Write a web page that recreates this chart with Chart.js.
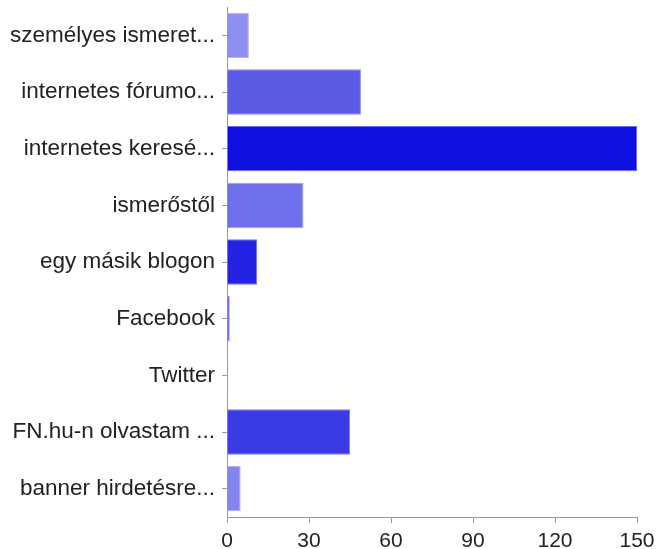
<!DOCTYPE html>
<html>
<head>
<meta charset="utf-8">
<script src="https://cdn.jsdelivr.net/npm/chart.js@4"></script>
<style>
  html, body { margin: 0; padding: 0; background: #fff; }
  #wrap { width: 658px; height: 549px; position: relative; }
</style>
</head>
<body>
<div id="wrap"><canvas id="myChart"></canvas></div>
<script>
const categories = [
  'személyes ismeret...',
  'internetes fórumo...',
  'internetes keresé...',
  'ismerőstől',
  'egy másik blogon',
  'Facebook',
  'Twitter',
  'FN.hu-n olvastam ...',
  'banner hirdetésre...'
];
const counts = [8, 49, 150, 28, 11, 1, 0, 45, 5];
const barColors = ['#8f8ff0', '#5b5be6', '#1010e0', '#7070ea', '#2222e0', '#4a4af0', '#4a4af0', '#3b3be6', '#8585f0'];
const edgeColors = ['#b4b4f6', '#8a8af0', '#6a6aee', '#a0a0f4', '#7070ee', '#9090f6', '#9090f6', '#8080f0', '#b0b0f6'];
const xTicks = [0, 30, 60, 90, 120, 150];

const myChartElement = document.getElementById('myChart');
const fontFamily = '"Liberation Sans", Arial, Helvetica, sans-serif';

let myChart = new Chart(myChartElement, {
  type: 'bar',
  data: {
    labels: categories,
    datasets: [
      {
        data: counts,
        backgroundColor: barColors,
        borderColor: edgeColors,
        borderWidth: 1,
        barPercentage: 0.8,
        categoryPercentage: 1.0
      }
    ]
  },
  options: {
    indexAxis: 'y',
    responsive: true,
    maintainAspectRatio: false,
    animation: false,
    layout: {
      padding: { top: 7, right: 21, bottom: 0, left: 0 }
    },
    plugins: {
      legend: { display: false },
      tooltip: { enabled: false }
    },
    scales: {
      x: {
        min: 0,
        max: 150,
        afterBuildTicks: function (scale) {
          scale.ticks = xTicks.map(v => ({ value: v }));
        },
        afterFit: function (scale) {
          scale.height = 32;
          scale.paddingLeft = 0;
          scale.paddingRight = 0;
        },
        grid: {
          drawOnChartArea: false,
          drawTicks: true,
          tickLength: 6,
          color: '#999'
        },
        border: { color: '#999', width: 1 },
        ticks: {
          padding: 6,
          color: '#222',
          font: { family: fontFamily, size: 21 }
        }
      },
      y: {
        afterFit: function (scale) {
          scale.width = 227;
          scale.paddingTop = 0;
          scale.paddingBottom = 0;
        },
        grid: {
          offset: false,
          drawOnChartArea: false,
          drawTicks: true,
          tickLength: 5,
          color: '#999'
        },
        border: { color: '#999', width: 1 },
        ticks: {
          padding: 7,
          color: '#222',
          autoSkip: false,
          font: { family: fontFamily, size: 22.5 }
        }
      }
    }
  }
});
</script>
</body>
</html>
